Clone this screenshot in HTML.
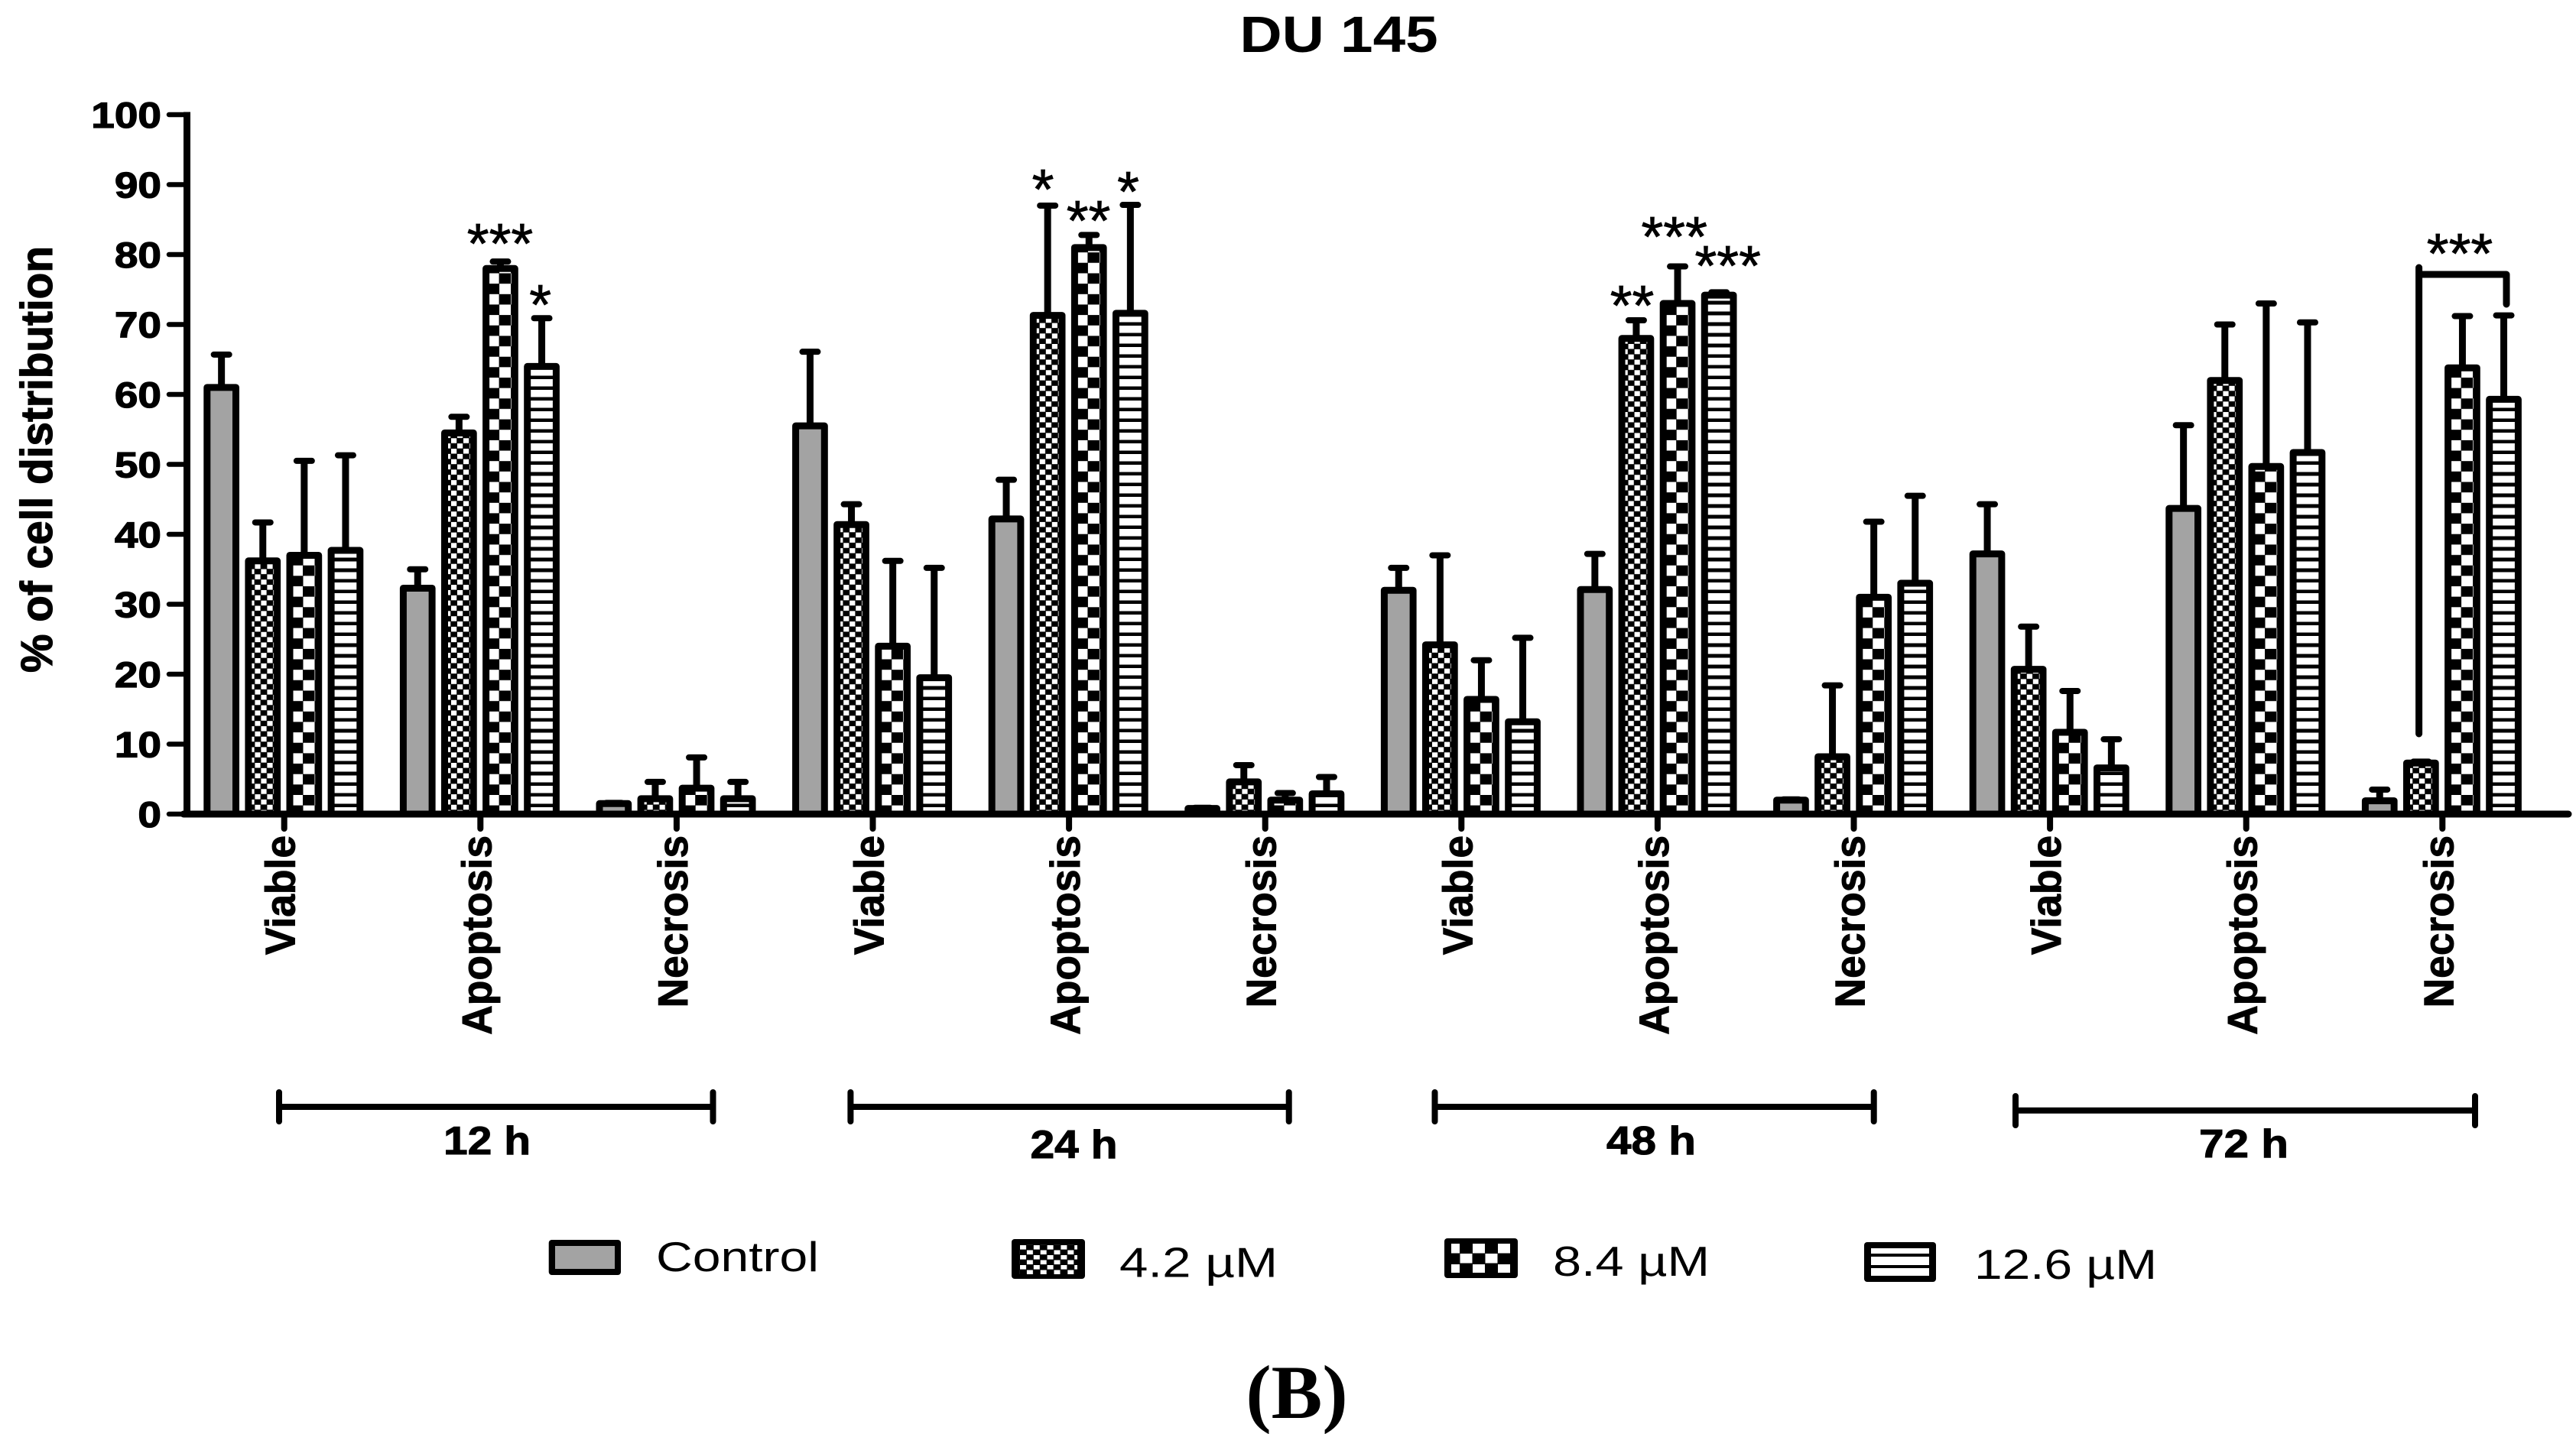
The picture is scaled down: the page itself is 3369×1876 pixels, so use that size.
<!DOCTYPE html>
<html lang="en">
<head>
<meta charset="utf-8">
<title>DU 145 cell distribution</title>
<style>
html,body{margin:0;padding:0;background:#fff;width:3369px;height:1876px;overflow:hidden}
svg{display:block}
text{fill:#000;font-family:"Liberation Sans",sans-serif}
.b{font-weight:bold}
.star{font-size:74px;text-anchor:middle;stroke:#000;stroke-width:0.8px}
.group-label{font-size:52px;font-weight:bold;stroke:#000;stroke-width:1px}
.legend-text{font-size:55px}
</style>
</head>
<body>
<svg id="chart" xmlns="http://www.w3.org/2000/svg" width="3369" height="1876" viewBox="0 0 3369 1876">
  <defs>
    <pattern id="p42" patternUnits="userSpaceOnUse" x="13" y="-12.2" width="16" height="13.7">
      <rect width="16" height="13.7" fill="#000"/>
      <rect x="0" y="0" width="7.2" height="6.5" fill="#fff"/>
      <rect x="8" y="6.85" width="7.2" height="6.5" fill="#fff"/>
    </pattern>
    <pattern id="p84" patternUnits="userSpaceOnUse" x="7" y="-25" width="30" height="27.3">
      <rect width="30" height="27.3" fill="#000"/>
      <rect x="0" y="0" width="14.5" height="13.6" fill="#fff"/>
      <rect x="15" y="13.65" width="15" height="13.65" fill="#fff"/>
    </pattern>
    <pattern id="p126" patternUnits="userSpaceOnUse" x="0" y="-9" width="20" height="14">
      <rect width="20" height="14" fill="#000"/>
      <rect x="0" y="0" width="20" height="9.5" fill="#fff"/>
    </pattern>
    <pattern id="legend-p42" patternUnits="userSpaceOnUse" x="1334" y="1629" width="17.8" height="13">
      <rect width="17.8" height="13" fill="#000"/>
      <rect x="0" y="0" width="8" height="5.6" fill="#fff"/>
      <rect x="8.9" y="6.5" width="8" height="5.6" fill="#fff"/>
    </pattern>
    <pattern id="legend-p84" patternUnits="userSpaceOnUse" x="1893" y="1613" width="33" height="27">
      <rect width="33" height="27" fill="#000"/>
      <rect x="0" y="14" width="16" height="12.5" fill="#fff"/>
      <rect x="16.5" y="0" width="16" height="12.5" fill="#fff"/>
    </pattern>
  </defs>

  <text class="b" font-size="66.5" text-anchor="middle" transform="translate(1751,68) scale(1.15,1)">DU 145</text>
  <text class="b" font-size="58" stroke="#000" stroke-width="1.2" transform="translate(68,880) rotate(-90)" textLength="558" lengthAdjust="spacingAndGlyphs">% of cell distribution</text>

  <g id="bars"></g>
  <g id="axes"></g>

  <g>
    <text class="star" x="654" y="344">***</text>
    <text class="star" x="706.7" y="424">*</text>
    <text class="star" x="1364" y="273">*</text>
    <text class="star" x="1423.5" y="314">**</text>
    <text class="star" x="1475.5" y="276">*</text>
    <text class="star" x="2134.5" y="425">**</text>
    <text class="star" x="2189.7" y="335">***</text>
    <text class="star" x="2259.7" y="373">***</text>
    <text class="star" x="3217" y="357">***</text>
    <path d="M3163.6,960V350M3163.6,359H3278V398" fill="none" stroke="#000" stroke-width="9" stroke-linecap="round" stroke-linejoin="round"/>
  </g>

  <g>
    <path d="M365,1429V1467M932.5,1429V1467M365,1448H932.5" stroke="#000" stroke-width="8" stroke-linecap="round" fill="none"/>
    <text class="group-label" x="580" y="1510" textLength="114" lengthAdjust="spacingAndGlyphs">12 h</text>
  </g>
  <g>
    <path d="M1112.4,1429V1467M1685.7,1429V1467M1112.4,1448H1685.7" stroke="#000" stroke-width="8" stroke-linecap="round" fill="none"/>
    <text class="group-label" x="1347.5" y="1515" textLength="114" lengthAdjust="spacingAndGlyphs">24 h</text>
  </g>
  <g>
    <path d="M1876.5,1429V1467M2450.7,1429V1467M1876.5,1448H2450.7" stroke="#000" stroke-width="8" stroke-linecap="round" fill="none"/>
    <text class="group-label" x="2101" y="1510" textLength="117" lengthAdjust="spacingAndGlyphs">48 h</text>
  </g>
  <g>
    <path d="M2636,1434V1472M3237,1434V1472M2636,1452.7H3237" stroke="#000" stroke-width="8" stroke-linecap="round" fill="none"/>
    <text class="group-label" x="2876" y="1514" textLength="117" lengthAdjust="spacingAndGlyphs">72 h</text>
  </g>

  <g>
    <g>
      <g>
        <rect x="717.7" y="1622" width="94.3" height="46" rx="4" fill="#000"/>
        <rect x="726" y="1630" width="78" height="30" fill="#a3a3a3"/>
      </g>
      <text class="legend-text" x="858" y="1663" textLength="213" lengthAdjust="spacingAndGlyphs">Control</text>
    </g>
    <g>
      <g>
        <rect x="1323" y="1621" width="96" height="52" rx="4" fill="#000"/>
        <rect x="1333" y="1628" width="76" height="39" fill="url(#legend-p42)"/>
      </g>
      <text class="legend-text" x="1464" y="1670.7" textLength="207" lengthAdjust="spacingAndGlyphs">4.2 µM</text>
    </g>
    <g>
      <g>
        <rect x="1889" y="1620" width="96" height="52" rx="4" fill="#000"/>
        <rect x="1898" y="1627" width="77" height="38" fill="url(#legend-p84)"/>
      </g>
      <text class="legend-text" x="2031" y="1669" textLength="205" lengthAdjust="spacingAndGlyphs">8.4 µM</text>
    </g>
    <g>
      <g>
        <rect x="2438" y="1625" width="94" height="52" rx="4" fill="#000"/>
        <rect x="2447" y="1633" width="76" height="7" fill="#fff"/>
        <rect x="2447" y="1644" width="76" height="11" fill="#fff"/>
        <rect x="2447" y="1659" width="76" height="10" fill="#fff"/>
      </g>
      <text class="legend-text" x="2582" y="1673" textLength="239" lengthAdjust="spacingAndGlyphs">12.6 µM</text>
    </g>
  </g>

  <text font-size="100" text-anchor="middle" x="1696" y="1855" style="font-family:'Liberation Serif',serif;font-weight:bold">(B)</text>
</svg>

<script>
// Data
const categories = ["Viable","Apoptosis","Necrosis","Viable","Apoptosis","Necrosis","Viable","Apoptosis","Necrosis","Viable","Apoptosis","Necrosis"];
const timepoints = ["12h","24h","48h","72h"];
const seriesNames = ["control","4-2-um","8-4-um","12-6-um"];
const controlValues = [61,32.3,1.5,55.5,42.2,0.8,32,32.1,2,37.2,43.7,1.9];
const um42Values    = [36.2,54.5,2.2,41.4,71.3,4.6,24.2,68,8.2,20.7,62,7.3];
const um84Values    = [37,78,3.7,24,81,2,16.4,73,31,11.7,49.7,63.8];
const um126Values   = [37.7,64,2.2,19.5,71.6,2.9,13.2,74.2,33,6.6,51.7,59.3];
const controlUpper  = [65.7,35,1.6,66.1,47.8,0.9,35.2,37.2,2.1,44.3,55.6,3.5];
const um42Upper     = [41.7,56.8,4.6,44.3,87,7,37,70.6,18.4,26.8,70,7.5];
const um84Upper     = [50.5,79,8.1,36.2,82.8,3,22,78.3,41.8,17.6,73,71.2];
const um126Upper    = [51.3,70.9,4.6,35.2,87.1,5.3,25.2,74.6,45.5,10.7,70.3,71.3];
const yTickLabels   = [0,10,20,30,40,50,60,70,80,90,100];

const allValues = [controlValues,um42Values,um84Values,um126Values];
const allUpper = [controlUpper,um42Upper,um84Upper,um126Upper];
const fills = ["#a3a3a3","url(#p42)","url(#p84)","url(#p126)"];

const NS = "http://www.w3.org/2000/svg";
const y0 = 1065, yScale = 9.15;
const firstBar = 266.3, groupStep = 256.6, barStep = 54.1, barW = 46.7, sw = 9;
function yPos(v){ return y0 - v * yScale; }
function barLeft(c,s){ return firstBar + c * groupStep + s * barStep; }
function tickX(c){ return firstBar + c * groupStep + 105.4; }
function mk(tag,attrs,parent){
  const e = document.createElementNS(NS,tag);
  for(const k in attrs){ e.setAttribute(k,attrs[k]); }
  parent.appendChild(e);
  return e;
}

const barsG = document.getElementById("bars");
categories.forEach(function(cat,c){
  const hour = timepoints[Math.floor(c/3)];
  const catG = mk("g",{},barsG);
  
  
  seriesNames.forEach(function(sn,s){
    const left = barLeft(c,s);
    const cx = left + barW/2;
    const v = allValues[s][c];
    const u = allUpper[s][c];
    const stem = mk("line",{x1:cx,x2:cx,y1:yPos(v),y2:yPos(u),stroke:"#000","stroke-width":sw},catG);
    
    
    const cap = mk("line",{x1:cx-10,x2:cx+10,y1:yPos(u),y2:yPos(u),stroke:"#000","stroke-width":8,"stroke-linecap":"round"},catG);
    
    
    const g = mk("g",{transform:"translate("+left+","+y0+")"},catG);
    const h = v * yScale;
    const r = mk("rect",{x:sw/2,y:-h,width:barW-sw,height:h,fill:fills[s],stroke:"#000","stroke-width":sw,"stroke-linejoin":"round"},g);
    
    
  });
});

const axes = document.getElementById("axes");
const yAxis = mk("line",{x1:244.5,x2:244.5,y1:yPos(100)-3.5,y2:y0+4,stroke:"#000","stroke-width":9},axes);


const xAxis = mk("line",{x1:240,x2:3359,y1:y0,y2:y0,stroke:"#000","stroke-width":9,"stroke-linecap":"round"},axes);



yTickLabels.forEach(function(t){
  const y = yPos(t);
  const tick = mk("line",{x1:221,x2:244,y1:y,y2:y,stroke:"#000","stroke-width":6.5,"stroke-linecap":"round"},axes);
  
  
  const lab = mk("text",{"font-size":47,"font-weight":"bold","text-anchor":"end",stroke:"#000","stroke-width":1.2,transform:"translate(211,"+(y+17)+") scale(1.17,1)"},axes);
  lab.textContent = t;
  
  
});

categories.forEach(function(cat,c){
  const x = tickX(c);
  const hour = timepoints[Math.floor(c/3)];
  const tick = mk("line",{x1:x,x2:x,y1:y0,y2:1084,stroke:"#000","stroke-width":8,"stroke-linecap":"round"},axes);
  
  
  const lab = mk("text",{"font-size":55,"font-weight":"bold","text-anchor":"end",stroke:"#000","stroke-width":1,transform:"translate("+(x+14)+",1093) rotate(-90) scale(0.97,1)"},axes);
  lab.textContent = cat;
  
  
});
</script>
</body>
</html>
